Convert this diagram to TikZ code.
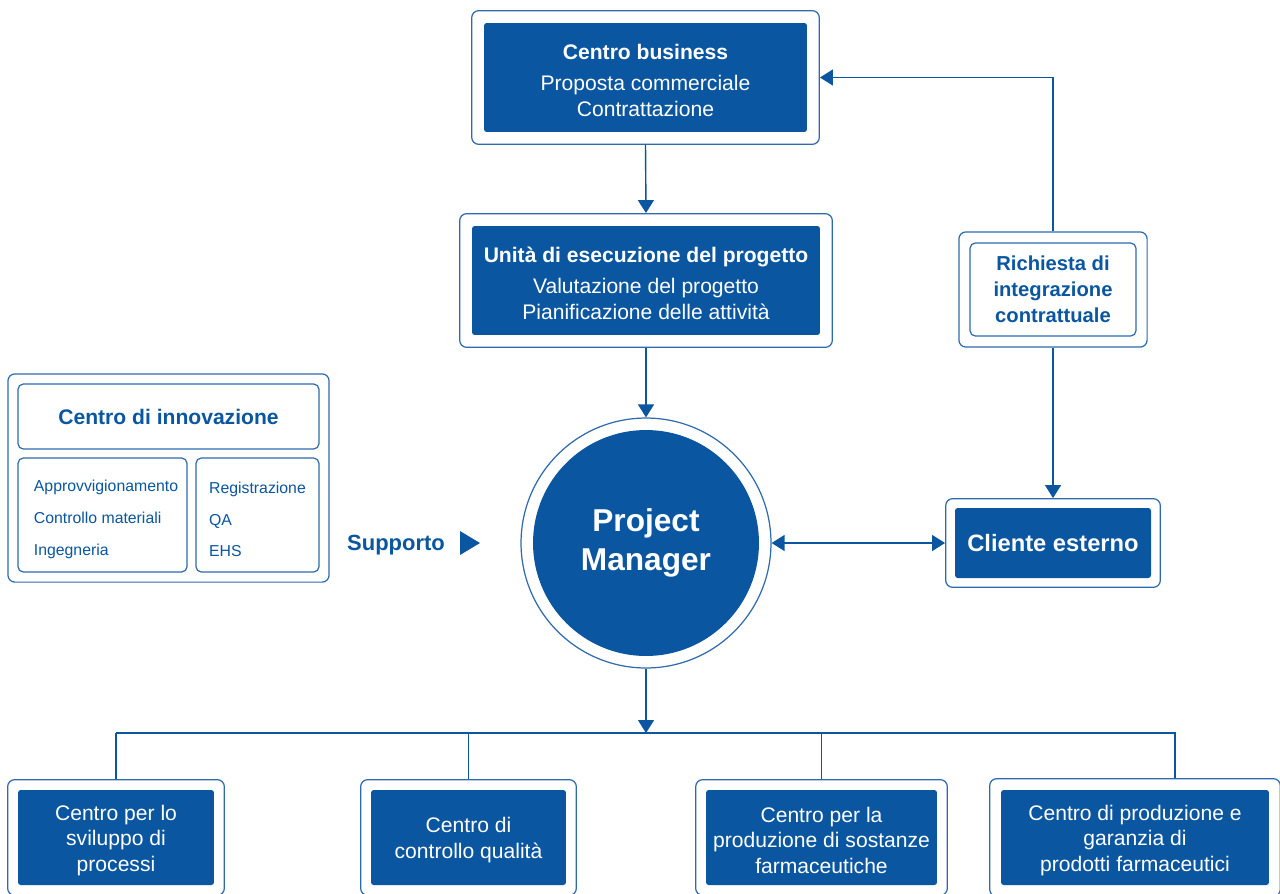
\documentclass[tikz,border=0pt]{standalone}
\usepackage{fontspec}
\setmainfont{Liberation Sans}
\usepackage{xcolor}
\usetikzlibrary{positioning, arrows.meta, fit, backgrounds}
\definecolor{pmblue}{HTML}{0A56A0}
\definecolor{pmline}{HTML}{2E6AAE}

\begin{document}
\begin{tikzpicture}[
  x=0.02cm, y=-0.02cm,
  font=\fontsize{12}{14.7}\selectfont,
  core/.style    ={rectangle, rounded corners=1.5pt, fill=pmblue, text=white,
                   align=center, inner sep=0pt},
  shell/.style   ={rectangle, rounded corners=4pt, draw=pmline, line width=0.7pt,
                   inner sep=0.24cm},
  lightbox/.style={rectangle, rounded corners=3pt, draw=pmline, line width=0.7pt,
                   fill=white, text=pmblue, align=center, inner sep=0pt},
  flow/.style    ={-{Triangle[length=2.6mm, width=3.2mm]}, pmblue, line width=0.8pt},
  both/.style    ={{Triangle[length=2.6mm, width=3.2mm]}-{Triangle[length=2.6mm, width=3.2mm]},
                   pmblue, line width=0.8pt},
  link/.style    ={pmblue, line width=0.8pt}
]
\useasboundingbox (0,0) rectangle (1280,893);
\clip (0,0) rectangle (1280,893);

% ---------- Top column ----------
\node[core, minimum width=6.46cm, minimum height=2.18cm] (biz) at (645.5,77.5)
  {\rule{0pt}{12pt}\textbf{Centro business}\\[3pt]Proposta commerciale\\Contrattazione};
\node[shell, fit=(biz)] (bizf) {};
\node[core, minimum width=6.96cm, minimum height=2.18cm] (unit) at (646,280.5)
  {\rule{0pt}{12pt}\textbf{Unità di esecuzione del progetto}\\[3pt]Valutazione del progetto\\Pianificazione delle attività};
\node[shell, fit=(unit)] (unitf) {};

% ---------- Hub ----------
\node[circle, fill=pmblue, text=white, minimum size=4.52cm, align=center,
      font=\bfseries\fontsize{18}{22.5}\selectfont] (pm) at (646,543) {Project\\Manager};
\node[circle, draw=pmline, line width=0.7pt, minimum size=5cm] (pmf) at (pm) {};

% ---------- Right column ----------
\node[lightbox, font=\bfseries\fontsize{11.5}{14.7}\selectfont,
      minimum width=3.32cm, minimum height=1.86cm] (req) at (1053,289.5)
  {Richiesta di\\integrazione\\contrattuale};
\node[shell, inner sep=0.21cm, fit=(req)] (reqf) {};
\node[core, font=\bfseries\fontsize{13.5}{16}\selectfont,
      minimum width=3.92cm, minimum height=1.4cm] (cli) at (1053,543) {Cliente esterno};
\node[shell, inner sep=0.18cm, fit=(cli)] (clif) {};

% ---------- Left block ----------
\node[lightbox, font=\bfseries\fontsize{12}{14.7}\selectfont,
      minimum width=6.02cm, minimum height=1.3cm] (inno) at (168.5,416.5) {Centro di innovazione};
\node[lightbox, align=left, font=\fontsize{9}{18.1}\selectfont,
      minimum width=3.38cm, minimum height=2.28cm] (inl) at (102.5,515)
  {\hspace{4pt}\rule{0pt}{11.5pt}Approvvigionamento\\\hspace{4pt}Controllo materiali\\\hspace{4pt}Ingegneria};
\node[lightbox, align=left, font=\fontsize{9}{18.1}\selectfont,
      minimum width=2.46cm, minimum height=2.28cm] (inr) at (257.5,515)
  {\rule{0pt}{11.5pt}Registrazione\\QA\\EHS};
\node[shell, inner sep=0.19cm, fit=(inno)(inl)(inr)] (innof) {};
\node[font=\bfseries\fontsize{12.5}{15}\selectfont, text=pmblue, inner sep=0pt] (supp)
  at (396,545) {Supporto};
\fill[pmblue] (460,531) -- (480,543) -- (460,555) -- cycle;

% ---------- Bottom row ----------
\node[core, minimum width=3.92cm, minimum height=1.9cm] (dev) at (116,837.5)
  {\rule{0pt}{12pt}Centro per lo\\sviluppo di\\processi};
\node[shell, inner sep=0.2cm, fit=(dev)] (devf) {};
\node[core, minimum width=3.90cm, minimum height=1.9cm] (qc) at (468.5,837.5)
  {\rule{0pt}{12pt}Centro di\\controllo qualità};
\node[shell, inner sep=0.2cm, fit=(qc)] (qcf) {};
\node[core, minimum width=4.62cm, minimum height=1.9cm] (api) at (821.5,837.5)
  {\rule{0pt}{12pt}Centro per la\\produzione di sostanze\\farmaceutiche};
\node[shell, inner sep=0.2cm, fit=(api)] (apif) {};
\node[core, minimum width=5.36cm, minimum height=1.9cm] (drug) at (1135,837.5)
  {\rule{0pt}{12pt}Centro di produzione e\\garanzia di\\prodotti farmaceutici};
\node[shell, inner sep=0.22cm, fit=(drug)] (drugf) {};

% ---------- Arrows ----------
\coordinate (bus) at (646,733);
\coordinate (drop) at ([xshift=0.8cm]drugf.north);
\draw[flow] (bizf.south)  -- (unitf.north);
\draw[flow] (unitf.south) -- (pmf.north);
\draw[flow] (reqf.north)  |- (bizf.east);
\draw[flow] (reqf.south)  -- (clif.north);
\draw[both] (pmf.east)    -- (clif.west);
\draw[flow] (pmf.south)   -- (bus);
\draw[link] (devf.north |- bus) -- (drop |- bus) -- (drop);
\foreach \b in {devf, qcf, apif}
  \draw[link] (\b.north |- bus) -- (\b.north);

\end{tikzpicture}
\end{document}
